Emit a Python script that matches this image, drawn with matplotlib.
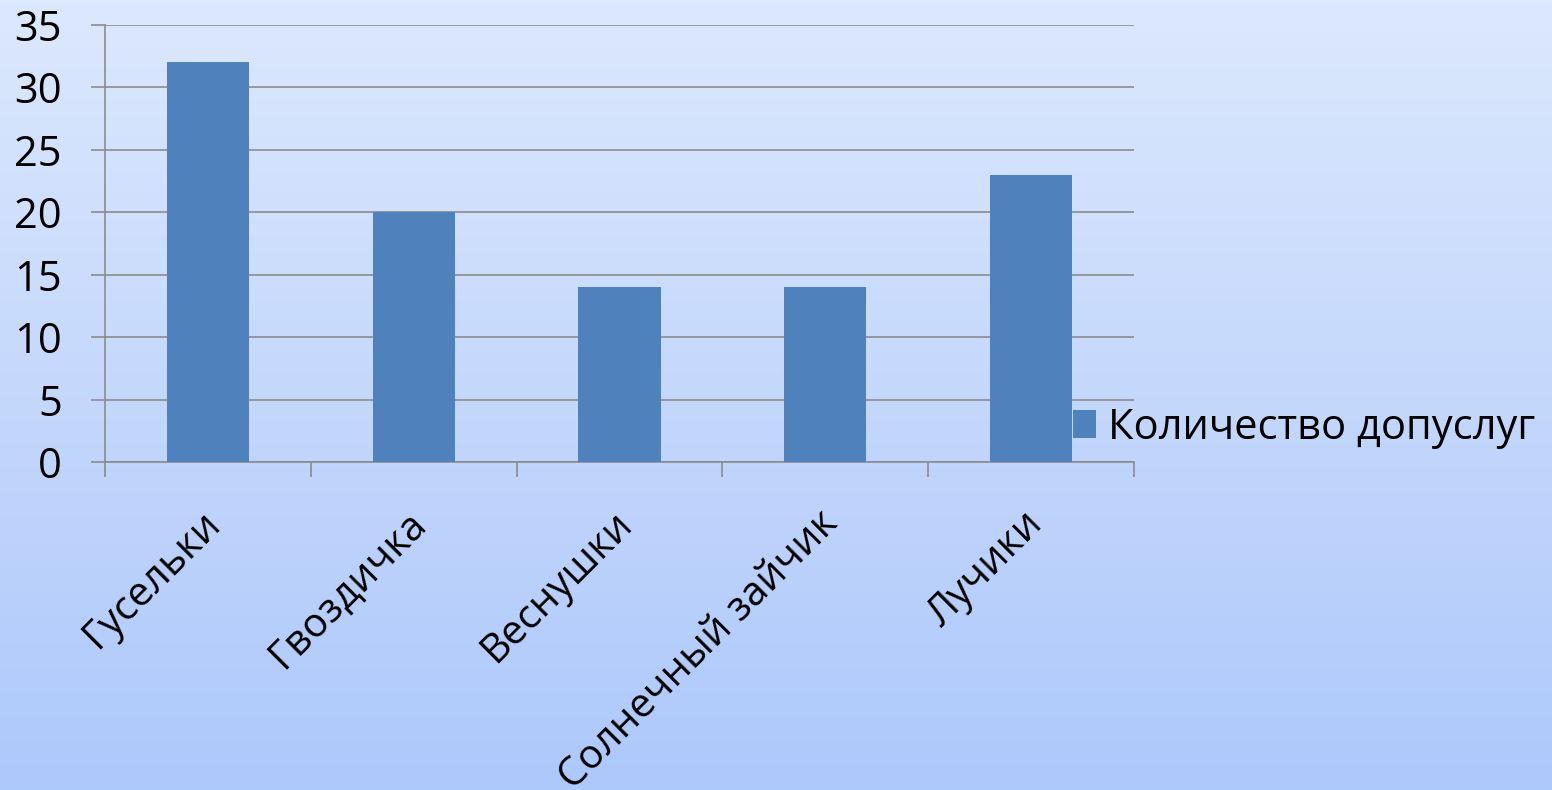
import numpy as np
import matplotlib.pyplot as plt
from matplotlib.transforms import ScaledTranslation

plt.rcParams['font.family'] = ['Open Sans', 'DejaVu Sans']

# Данные
groups = ['Гусельки', 'Гвоздичка', 'Веснушки', 'Солнечный зайчик', 'Лучики']
counts = [32, 20, 14, 14, 23]
series_name = 'Количество допуслуг'

fig = plt.figure(figsize=(15.52, 7.9), dpi=100)

# Фон с градиентом
bg = fig.add_axes([0, 0, 1, 1], zorder=-1)
top = np.array([220, 232, 253]) / 255
bottom = np.array([173, 200, 251]) / 255
t = np.linspace(0, 1, 256)[:, None]
grad = top[None, :] * (1 - t) + bottom[None, :] * t
bg.imshow(grad[:, None, :].repeat(2, axis=1), aspect='auto', extent=[0, 1, 0, 1])
bg.axis('off')

W, H = 1552, 790
ax = fig.add_axes([105 / W, 1 - 462 / H, (1134 - 105) / W, (462 - 25) / H])
ax.patch.set_alpha(0)

x = np.arange(len(groups))
ax.bar(x, counts, width=0.4, color='#4f81bd', zorder=3, label=series_name)

ax.set_xlim(-0.5, len(groups) - 0.5)
ax.set_ylim(0, 35)
ax.set_yticks(range(0, 36, 5))
ax.yaxis.grid(True, color='#8c8c8c', linewidth=1.2)
ax.set_axisbelow(True)

for s in ['top', 'right']:
    ax.spines[s].set_visible(False)
ax.spines['left'].set_color('#8c8c8c')
ax.spines['bottom'].set_color('#8c8c8c')
ax.spines['left'].set_linewidth(1.2)
ax.spines['bottom'].set_linewidth(1.2)

ax.tick_params(axis='y', labelsize=30, length=10, width=1.2, color='#8c8c8c', pad=21)
ax.set_xticks(np.arange(-0.5, len(groups)))
ax.set_xticklabels([])
ax.tick_params(axis='x', length=11, width=1.2, color='#8c8c8c')
ax.set_xticks(x, minor=True)
ax.set_xticklabels(groups, minor=True, rotation=45, ha='right', va='top',
                   rotation_mode='anchor', fontsize=29)
ax.tick_params(axis='x', which='minor', length=0, pad=30)
for lbl in ax.get_xticklabels(minor=True):
    lbl.set_transform(lbl.get_transform() + ScaledTranslation(-8 / 100, 0, fig.dpi_scale_trans))

fig.legend(loc='center left', bbox_to_anchor=(1056 / W, 1 - 428 / H),
           frameon=False, fontsize=30, handlelength=0.55, handleheight=0.65,
           handletextpad=0.31, borderaxespad=0)

fig.savefig('out.png', dpi=100)
